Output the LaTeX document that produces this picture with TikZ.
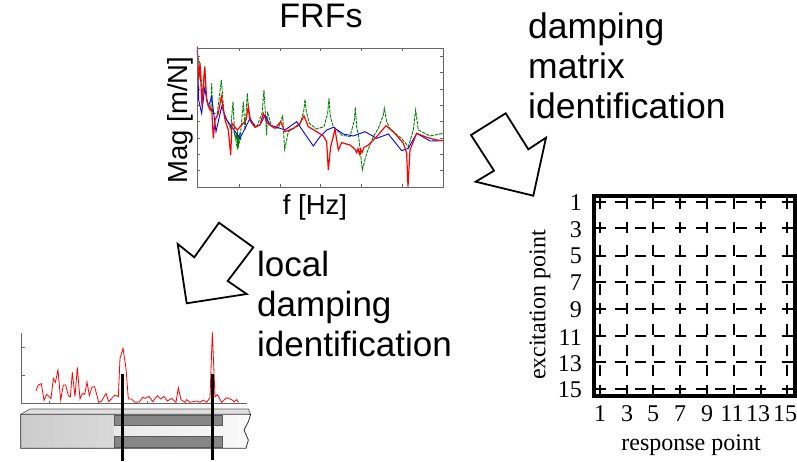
\documentclass[tikz,border=0pt]{standalone}
\usepackage{fontspec}
\setmainfont{Liberation Sans}
\newfontfamily\serifnum{Liberation Serif}
\usetikzlibrary{positioning, calc}

\definecolor{framegray}{gray}{0.4}
\definecolor{curvegreen}{rgb}{0,0.5,0}

\begin{document}
\begin{tikzpicture}[
    x=1pt, y=-1pt,
    bigtext/.style={font=\fontsize{35.5}{40}\selectfont, align=left, anchor=north west, inner sep=0pt},
    axistext/.style={font=\fontsize{27.5}{30}\selectfont, inner sep=0pt},
    gridnum/.style={font=\serifnum\fontsize{24}{26}\selectfont, inner sep=0pt},
    blockarrow/.style={draw=black, line width=1.8pt, fill=white, line join=miter},
    zoomed/.style={x=0.33333pt, y=-0.33333pt},
    griddash/.style={line width=1.7pt, black},
    frf/.style={line width=0.9pt}
]
    \useasboundingbox (0,0) rectangle (797,461);

    % FRF plot
    \node[axistext, font=\fontsize{34}{36}\selectfont, anchor=base] (frftitle) at (321,27) {FRFs};
    \node[axistext, rotate=90] (maglabel) at (180,120) {Mag [m/N]};
    \node[axistext] (freqlabel) at (315,207) {f [Hz]};

    \coordinate (plotnw) at (197,48);
    \coordinate (plotse) at (443,187);
    \foreach \tx in {239,280,320,361,402} {
        \draw[framegray, line width=0.6pt] (\tx,48) -- (\tx,51);
        \draw[framegray, line width=0.6pt] (\tx,187) -- (\tx,184);
    }
    \foreach \ty in {56,72,89,105,121,138,154,170} {
        \draw[framegray, line width=0.6pt] (197,\ty) -- (200,\ty);
        \draw[framegray, line width=0.6pt] (443,\ty) -- (440,\ty);
    }
    \begin{scope}[shift={(160,30)}, zoomed]
        % green, dashed
        \draw[frf, curvegreen, dash pattern=on 3.5pt off 1pt] (112,80) -- (120,100) -- (128,200) -- (134,110) -- (140,210) -- (152,240) -- (155,160) -- (158,250) -- (172,250) -- (184,150) -- (192,250) -- (212,295) -- (219,215) -- (224,310) -- (232,355) -- (240,330) -- (250,215) -- (255,300) -- (262,190) -- (268,270) -- (290,290) -- (306,250) -- (312,180) -- (320,315) -- (322,245) -- (335,290) -- (355,295) -- (368,258) -- (374,358) -- (385,305) -- (410,290) -- (420,283) -- (431,245) -- (435,208) -- (439,245) -- (448,280) -- (470,297) -- (492,290) -- (503,250) -- (507,205) -- (511,260) -- (520,290) -- (545,315) -- (570,320) -- (583,270) -- (586,232) -- (590,290) -- (596,320) -- (607,420) -- (620,370) -- (640,320) -- (655,295) -- (670,255) -- (673,235) -- (680,275) -- (692,300) -- (725,325) -- (745,350) -- (760,300) -- (767,240) -- (775,300) -- (810,318) -- (850,310);
        \draw[frf, curvegreen, line width=1.2pt] (222,305) -- (228,325) -- (232,310) -- (234,355) -- (238,315) -- (242,330);
        % blue
        \draw[frf, blue] (112,60) -- (116,210) -- (125,250) -- (134,175) -- (145,230) -- (155,200) -- (168,305) -- (185,230) -- (200,270) -- (215,290) -- (240,325) -- (255,295) -- (270,265) -- (285,290) -- (300,285) -- (315,255) -- (330,285) -- (360,295) -- (375,300) -- (410,275) -- (430,305) -- (460,348) -- (480,320) -- (500,300) -- (520,292) -- (550,312) -- (580,318) -- (615,305) -- (650,325) -- (685,312) -- (725,362) -- (745,355) -- (770,310) -- (810,333) -- (850,332);
        % red
        \draw[frf, red, line width=1.2pt] (112,50) -- (116,150) -- (120,100) -- (126,230) -- (134,110) -- (140,210) -- (150,240) -- (155,235) -- (160,325) -- (165,270) -- (175,250) -- (184,200) -- (195,270) -- (205,300) -- (212,375) -- (216,280) -- (232,300) -- (245,285) -- (258,270) -- (265,230) -- (272,275) -- (285,292) -- (300,285) -- (310,250) -- (322,280) -- (345,295) -- (362,275) -- (375,305) -- (400,295) -- (420,280) -- (432,258) -- (445,290) -- (470,305) -- (490,318) -- (500,335) -- (505,420) -- (512,350) -- (525,298) -- (535,360) -- (545,338) -- (570,345) -- (585,358) -- (590,368) -- (594,356) -- (598,372) -- (602,358) -- (606,368) -- (612,352) -- (625,345) -- (650,320) -- (678,287) -- (700,305) -- (730,340) -- (740,370) -- (744,470) -- (750,360) -- (770,310) -- (800,322) -- (830,330) -- (850,332);
    \end{scope}
    \draw[framegray, line width=1pt] (plotnw) rectangle (plotse);

    % texts beside the arrows
    \node[bigtext] (dampingtext) at (528,13) {damping\\matrix\\identification};
    \node[bigtext, font=\fontsize{35}{40}\selectfont] (localtext) at (257,251) {local\\damping\\identification};

    % block arrows
    \draw[blockarrow] (505.7,113.3) -- (528.3,149.3) -- (546,137.7) -- (533.3,195.7) -- (475.7,181.7) -- (494,170.7) -- (471,135) -- cycle;
    \draw[blockarrow] (219,222.7) -- (253.3,247.3) -- (227.7,281) -- (246.7,294) -- (186.7,303.3) -- (177.7,244) -- (194.3,257.3) -- cycle;

    % grid
    \foreach \ry in {201.7,228.3,255.7,282.3,309,335.7,362.3,389} {
        \foreach \dx in {600,620,640,659.6,680,701,720,741,760.5,787} {
            \draw[griddash] (\dx-5.5,\ry) -- (\dx+5.5,\ry);
        }
    }
    \foreach \cx in {600,626.7,653.3,680,707,734,760.7,787} {
        \foreach \dy in {203,227,250,270,289,308,329,350,370,390} {
            \draw[griddash] (\cx,\dy-5.5) -- (\cx,\dy+5.5);
        }
    }
    \draw[line width=4pt] (594,196) rectangle (795,395.5);

    \foreach \num/\ny in {1/203,3/230,5/256,7/283,9/310,11/338,13/364,15/390} {
        \node[gridnum, anchor=east] (row\num) at (582,\ny) {\num};
    }
    \foreach \num/\nx in {1/600,3/627,5/653,7/680,9/707,11/732,13/758,15/785} {
        \node[gridnum] (col\num) at (\nx,414) {\num};
    }
    \node[gridnum] (resplabel) at (691,445) {response point};
    \node[gridnum, rotate=90] (exclabel) at (540,305) {excitation point};

    % local damping sketch
    \begin{scope}[shift={(0,325)}, zoomed]
        \draw[framegray, line width=0.7pt] (65,25) -- (65,235) -- (740,235);
        \draw[framegray, line width=0.5pt] (65,67) -- (75,67) (65,151) -- (75,151) (148,235) -- (148,228) (443,235) -- (443,228);
        \draw[red, line width=0.8pt] (108,197) -- (115,180) -- (124,176) -- (132,226) -- (140,208) -- (153,221) -- (160,160) -- (166,172) -- (174,135) -- (182,225) -- (190,180) -- (197,180) -- (205,212) -- (211,216) -- (217,142) -- (225,215) -- (232,127) -- (240,222) -- (247,205) -- (254,208) -- (261,171) -- (268,212) -- (276,186) -- (284,185) -- (296,232) -- (305,228) -- (318,205) -- (326,230) -- (345,210) -- (355,215) -- (360,100) -- (369,70) -- (378,130) -- (385,222) -- (395,222) -- (405,232) -- (418,231) -- (428,217) -- (435,220) -- (447,214) -- (458,230) -- (472,212) -- (482,222) -- (492,214) -- (502,228) -- (515,220) -- (528,232) -- (535,188) -- (543,224) -- (555,232) -- (560,224) -- (570,232) -- (590,228) -- (600,232) -- (610,225) -- (620,232) -- (630,218) -- (637,22) -- (645,215) -- (652,209) -- (665,232) -- (680,218) -- (695,224) -- (702,230) -- (710,224) -- (716,232);

        % beam
        \draw[fill=gray!25, draw=gray!70!black, line width=0.6pt] (62,268) -- (90,252) -- (745,252) -- (752,268) -- cycle;
        \shade[left color=gray!40, right color=gray!30] (62,268) rectangle (343,370);
        \shade[left color=gray!18, right color=gray!4] (343,268) rectangle (745,370);
        \draw[gray!40!black, line width=0.8pt] (745,268) -- (752,268) -- (745,290) -- (732,315) -- (745,345) -- (738,370) -- (62,370) -- (62,268) -- (745,268);
        \draw[fill=gray!95, draw=gray!70!black, line width=1pt] (343,270) rectangle (667,301);
        \draw[fill=gray!95, draw=gray!70!black, line width=1pt] (343,335) rectangle (667,368);
        \draw[black, line width=2.7pt] (368,148) -- (368,408);
        \draw[black, line width=2.7pt] (637,148) -- (637,405);
    \end{scope}
\end{tikzpicture}
\end{document}
